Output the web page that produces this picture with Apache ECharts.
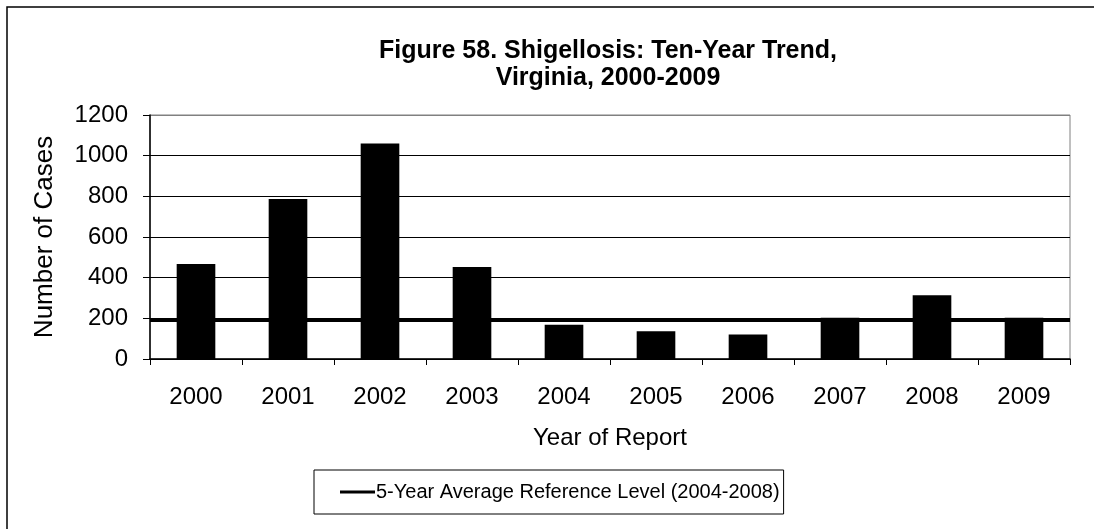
<!DOCTYPE html>
<html>
<head>
<meta charset="utf-8">
<script src="https://cdn.jsdelivr.net/npm/echarts@6/dist/echarts.min.js"></script>
<style>
  html, body { margin: 0; padding: 0; background: #fff; }
  #chart { width: 1094px; height: 529px; }
</style>
</head>
<body>
<div id="chart"></div>
<script>
const years = ['2000','2001','2002','2003','2004','2005','2006','2007','2008','2009'];
const cases = [467, 787, 1060, 452, 169, 137, 121, 203, 314, 203];
const referenceLevel = 189;
const yTicks = [0, 200, 400, 600, 800, 1000, 1200];
const titleText = 'Figure 58. Shigellosis: Ten-Year Trend,\nVirginia, 2000-2009';
const refName = '5-Year Average Reference Level (2004-2008)';

const FONT = '"Liberation Sans", Arial, sans-serif';
const chart = echarts.init(document.getElementById('chart'), null, { renderer: 'canvas' });

chart.setOption({
  animation: false,
  backgroundColor: '#fff',
  textStyle: { fontFamily: FONT, color: '#000' },
  title: {
    text: titleText,
    left: 603,
    top: 33,
    textAlign: 'center',
    textStyle: { fontFamily: FONT, fontSize: 25, fontWeight: 'bold', color: '#000', lineHeight: 27 }
  },
  graphic: [{
    type: 'rect',
    shape: { x: 7, y: 7, width: 1200, height: 800 },
    style: { fill: 'none', stroke: '#000', lineWidth: 1.5 },
    silent: true
  }],
  grid: {
    left: 150, right: 24, top: 115, bottom: 170,
    show: true, borderColor: '#808080', borderWidth: 1, backgroundColor: 'transparent'
  },
  legend: {
    data: [{ name: refName, icon: 'rect' }],
    left: 314, top: 470,
    padding: [12, 4, 12, 26],
    itemWidth: 35, itemHeight: 3, itemGap: 0,
    borderColor: '#000', borderWidth: 1,
    textStyle: { fontFamily: FONT, fontSize: 20, color: '#000', padding: [0, 0, 0, -4] }
  },
  xAxis: [{
    type: 'category',
    data: years,
    boundaryGap: true,
    name: 'Year of Report',
    nameLocation: 'middle',
    nameGap: 67,
    nameTextStyle: { fontFamily: FONT, fontSize: 24, color: '#000' },
    axisLine: { show: true, lineStyle: { color: '#000', width: 1.5 } },
    axisTick: { show: true, alignWithLabel: false, length: 6, lineStyle: { color: '#000', width: 1 } },
    axisLabel: { fontFamily: FONT, fontSize: 24, color: '#000', margin: 26 },
    splitLine: { show: false }
  }, {
    type: 'value', min: 0, max: 1, show: false
  }],
  yAxis: {
    type: 'value',
    min: 0, max: 1200, interval: 200,
    name: 'Number of Cases',
    nameLocation: 'middle',
    nameGap: 92,
    nameRotate: 90,
    nameTextStyle: { fontFamily: FONT, fontSize: 26, color: '#000' },
    axisLine: { show: true, lineStyle: { color: '#000', width: 1.5 } },
    axisTick: { show: true, length: 7, inside: false, lineStyle: { color: '#000', width: 1 } },
    axisLabel: {
      fontFamily: FONT, fontSize: 24, color: '#000', margin: 22,
      formatter: v => (yTicks.indexOf(v) >= 0 ? String(v) : '')
    },
    splitLine: { show: true, lineStyle: { color: ['#000','#000','#000','#000','#000','#000','#808080'], width: 1 } }
  },
  series: [{
    type: 'bar',
    name: 'Cases',
    data: cases,
    barCategoryGap: '58%',
    itemStyle: { color: '#000' },
    z: 3
  }, {
    type: 'line',
    name: refName,
    xAxisIndex: 1,
    data: [[0, referenceLevel], [1, referenceLevel]],
    symbol: 'none',
    lineStyle: { color: '#000', width: 3 },
    itemStyle: { color: '#000' },
    z: 4
  }]
});
</script>
</body>
</html>
